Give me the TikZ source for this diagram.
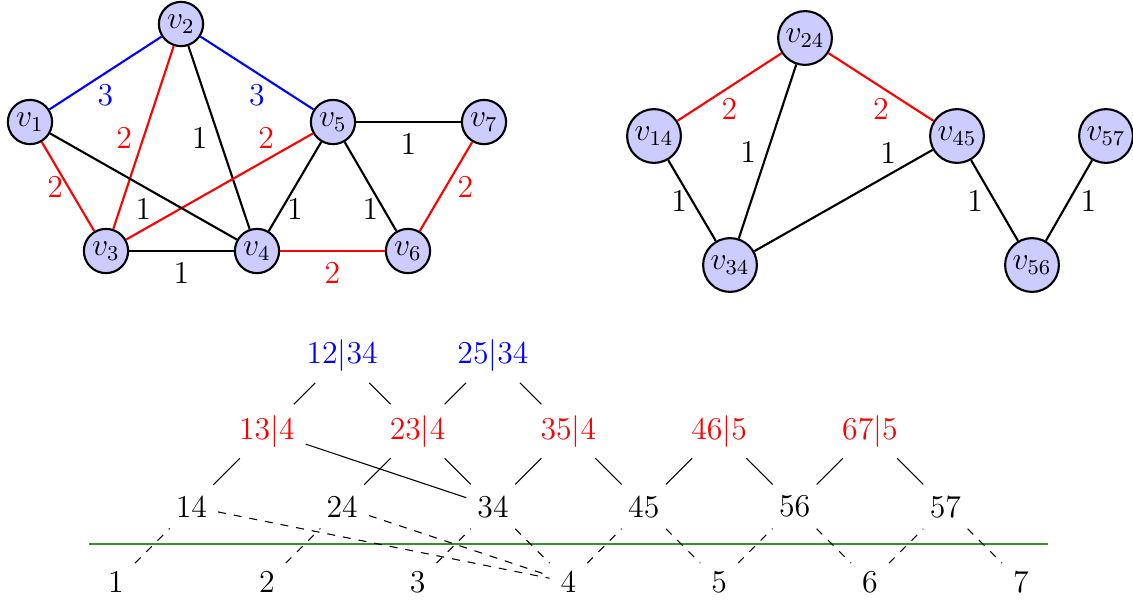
\documentclass[tikz,border=0pt,12pt]{standalone}
\usetikzlibrary{calc}
\definecolor{lgreen}{RGB}{50,145,50}
\begin{document}
\begin{tikzpicture}[x=0.01326cm,y=-0.01326cm,
  vtx/.style={circle,draw,thick,fill=blue!20,inner sep=1.5pt},
  gedge/.style={thick},
  tedge/.style={},
  dedge/.style={dashed},
  sepline/.style={thick,draw=lgreen}]
\useasboundingbox (0,0) rectangle (1133,600);

% ---------- left graph ----------
\node[vtx] (v1) at (30,122)  {$v_1$};
\node[vtx] (v2) at (181,24)  {$v_2$};
\node[vtx] (v3) at (106,251) {$v_3$};
\node[vtx] (v4) at (257,251) {$v_4$};
\node[vtx] (v5) at (333,122) {$v_5$};
\node[vtx] (v6) at (408,251) {$v_6$};
\node[vtx] (v7) at (484,122) {$v_7$};

\draw[gedge,blue] (v1) -- node[below] {3} (v2);
\draw[gedge,blue] (v2) -- node[below] {3} (v5);
\draw[gedge,red] (v2) -- node[left] {2} (v3);
\draw[gedge] (v2) -- node[left] {1} (v4);
\draw[gedge,red] (v3) -- node[pos=0.75,above] {2} (v5);
\draw[gedge] (v5) -- node[below] {1} (v7);
\draw[gedge,red] (v1) -- node[left,xshift=2.5pt] {2} (v3);
\draw[gedge] (v1) -- node[below] {1} (v4);
\draw[gedge] (v4) -- node[below] {1} (v5);
\draw[gedge] (v5) -- node[below] {1} (v6);
\draw[gedge,red] (v7) -- node[right] {2} (v6);
\draw[gedge] (v3) -- node[below] {1} (v4);
\draw[gedge,red] (v4) -- node[below] {2} (v6);

% ---------- right graph ----------
\node[vtx] (v14) at (654,136)  {$v_{14}$};
\node[vtx] (v24) at (805,38)   {$v_{24}$};
\node[vtx] (v45) at (957,136)  {$v_{45}$};
\node[vtx] (v57) at (1106,136) {$v_{57}$};
\node[vtx] (v34) at (730,265)  {$v_{34}$};
\node[vtx] (v56) at (1032,265) {$v_{56}$};

\draw[gedge,red] (v14) -- node[below] {2} (v24);
\draw[gedge,red] (v24) -- node[below] {2} (v45);
\draw[gedge] (v24) -- node[left] {1} (v34);
\draw[gedge] (v34) -- node[pos=0.75,above] {1} (v45);
\draw[gedge] (v14) -- node[left,xshift=2.5pt] {1} (v34);
\draw[gedge] (v45) -- node[left] {1} (v56);
\draw[gedge] (v57) -- node[right] {1} (v56);

% ---------- lattice ----------
\node (b1) at (116,582)    {1};
\node (b2) at (266.8,582)  {2};
\node (b3) at (417.6,582)  {3};
\node (b4) at (568.4,582)  {4};
\node (b5) at (719.2,582)  {5};
\node (b6) at (870,582)    {6};
\node (b7) at (1020.8,582) {7};

\node (t14) at (191.4,506.6) {14};
\node (t24) at (342.2,506.6) {24};
\node (t34) at (493,506.6)   {34};
\node (t45) at (643.8,506.6) {45};
\node (t56) at (794.6,506.6) {56};
\node (t57) at (945.4,506.6) {57};

\node[red] (r134) at (266.8,431.2) {$13|4$};
\node[red] (r234) at (417.6,431.2) {$23|4$};
\node[red] (r354) at (568.4,431.2) {$35|4$};
\node[red] (r465) at (719.2,431.2) {$46|5$};
\node[red] (r675) at (870,431.2)   {$67|5$};

\node[blue] (s1234) at (342.2,355.8) {$12|34$};
\node[blue] (s2534) at (493,355.8)   {$25|34$};

\coordinate (gl) at (89,544);
\coordinate (gr) at (1048,544);
\draw[sepline] (gl) -- (gr);

\draw[tedge] (s1234) -- (r134);
\draw[tedge] (s1234) -- (r234);
\draw[tedge] (s2534) -- (r234);
\draw[tedge] (s2534) -- (r354);
\draw[tedge] (r134) -- (t14);
\draw[tedge] (r134) -- (t34);
\draw[tedge] (r234) -- (t24);
\draw[tedge] (r234) -- (t34);
\draw[tedge] (r354) -- (t34);
\draw[tedge] (r354) -- (t45);
\draw[tedge] (r465) -- (t45);
\draw[tedge] (r465) -- (t56);
\draw[tedge] (r675) -- (t56);
\draw[tedge] (r675) -- (t57);

\draw[dedge] (b1) -- (t14);
\draw[dedge] (t14) -- (b4);
\draw[dedge] (b2) -- (t24);
\draw[dedge] (t24) -- (b4);
\draw[dedge] (b3) -- (t34);
\draw[dedge] (t34) -- (b4);
\draw[dedge] (b4) -- (t45);
\draw[dedge] (t45) -- (b5);
\draw[dedge] (b5) -- (t56);
\draw[dedge] (t56) -- (b6);
\draw[dedge] (b6) -- (t57);
\draw[dedge] (t57) -- (b7);
\end{tikzpicture}
\end{document}
